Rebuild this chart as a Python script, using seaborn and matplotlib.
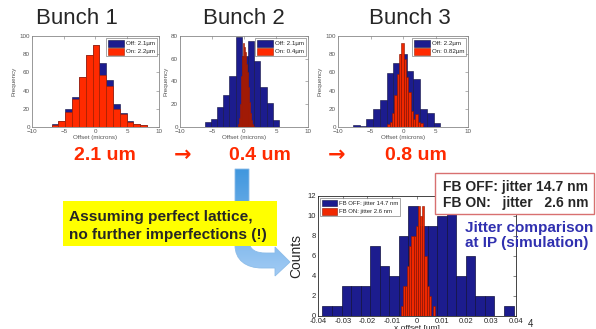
import matplotlib
matplotlib.use("Agg")
import matplotlib.pyplot as plt
import numpy as np
import pandas as pd
import seaborn as sns
from matplotlib.patches import Patch, Rectangle, PathPatch
from matplotlib.path import Path
from matplotlib.colors import LinearSegmentedColormap

# bunch 1 offsets (microns), feedback off / on
b1_off_counts = [3, 7, 20, 33, 55, 79, 90, 70, 52, 25, 15, 7, 3, 2]
b1_on_counts = [2, 7, 17, 31, 55, 79, 90, 57, 45, 20, 14, 5, 3, 2]
b1_off_range = (-6.9, 8.1)
b1_on_range = (-6.9, 8.1)

# bunch 2
b2_off_counts = [4, 7, 18, 28, 45, 79, 62, 76, 58, 35, 21, 6]
b2_on_counts = [3, 8, 20, 45, 62, 74, 70, 66, 55, 48, 35, 22, 12, 6, 3, 1]
b2_off_range = (-6.15, 5.47)
b2_on_range = (-0.9, 1.5)

# bunch 3
b3_off_counts = [2, 1, 9, 20, 30, 59, 70, 80, 61, 53, 20, 15, 4]
b3_on_counts = [3, 6, 15, 35, 58, 80, 92, 75, 55, 38, 18, 9, 14, 6, 4]
b3_off_range = (-7.7, 5.74)
b3_on_range = (-2.4, 3.0)

# jitter at IP (um)
ip_off_counts = [1, 1, 3, 3, 3, 7, 5, 4, 8, 11, 9, 9, 10, 11, 4, 6, 2, 2, 0, 1]
ip_on_counts = [1, 3, 3, 5, 7, 8, 8, 9, 11, 10, 11, 6, 3, 2, 0, 1]
ip_off_range = (-0.0382, 0.039)
ip_on_range = (-0.0066, 0.0074)

bunch_titles = ["Bunch 1", "Bunch 2", "Bunch 3"]
bunch_legends = [("Off: 2.1\u00b5m", "On: 2.2\u00b5m"),
                 ("Off: 2.1\u00b5m", "On: 0.4\u00b5m"),
                 ("Off: 2.2\u00b5m", "On: 0.82\u00b5m")]
bunch_ymax = [100, 80, 100]
result_labels = ["2.1 um", "0.4 um", "0.8 um"]

BLUE = "#1c1c8e"
RED = "#ff2a00"
FONT = ["Liberation Sans", "DejaVu Sans"]

sns.set_style("white")
plt.rcParams["font.family"] = FONT

W, H = 596, 329
fig = plt.figure(figsize=(W / 100, H / 100), dpi=100)


def px_axes(x0, y0, x1, y1):
    return fig.add_axes([x0 / W, 1 - y1 / H, (x1 - x0) / W, (y1 - y0) / H])


def hist_bars(ax, counts, rng, color, edge, lw):
    edges = np.linspace(rng[0], rng[1], len(counts) + 1)
    df = pd.DataFrame({"x": (edges[:-1] + edges[1:]) / 2, "n": counts})
    sns.histplot(data=df, x="x", weights="n", bins=edges.tolist(), ax=ax,
                 color=color, edgecolor=edge, linewidth=lw, alpha=1,
                 stat="count")


top_boxes = [(32, 36, 159, 127), (180, 36, 308, 127), (338, 36, 468, 127)]
top_data = [
    (b1_off_counts, b1_off_range, b1_on_counts, b1_on_range),
    (b2_off_counts, b2_off_range, b2_on_counts, b2_on_range),
    (b3_off_counts, b3_off_range, b3_on_counts, b3_on_range),
]

for i, box in enumerate(top_boxes):
    ax = px_axes(*box)
    off_c, off_r, on_c, on_r = top_data[i]
    hist_bars(ax, off_c, off_r, BLUE, "#101040", 0.4)
    if i == 0:
        hist_bars(ax, on_c, on_r, RED, "#a02000", 0.4)
    else:
        hist_bars(ax, on_c, on_r, "#f02800", "#8a1500", 0.4)
    ax.set_xlim(-10, 10)
    ax.set_ylim(0, bunch_ymax[i])
    ax.set_xticks([-10, -5, 0, 5, 10])
    ax.set_yticks(np.arange(0, bunch_ymax[i] + 1, 20))
    ax.tick_params(direction="in", length=2, width=0.4, labelsize=4.5,
                   labelcolor="#555555", color="#777777", pad=1.5,
                   top=True, right=True)
    for s in ax.spines.values():
        s.set_color("#888888")
        s.set_linewidth(0.6)
    ax.set_xlabel("Offset (microns)", fontsize=4.5, color="#555555", labelpad=1)
    ax.set_ylabel("Frequency", fontsize=4.5, color="#555555", labelpad=2)
    handles = [Patch(facecolor=BLUE, edgecolor="#101040", lw=0.4),
               Patch(facecolor=RED, edgecolor="#a02000", lw=0.4)]
    leg = ax.legend(handles, bunch_legends[i], loc="upper right", fontsize=4.5,
                    frameon=True, fancybox=False, handlelength=2.6,
                    handleheight=1.3, borderpad=0.3, labelspacing=0.2,
                    handletextpad=0.3, borderaxespad=0.3)
    leg.get_frame().set_edgecolor("#666666")
    leg.get_frame().set_linewidth(0.5)

# bottom: jitter at IP
ax = px_axes(318, 196, 516, 316)
hist_bars(ax, ip_off_counts, ip_off_range, BLUE, "#101040", 0.5)
hist_bars(ax, ip_on_counts, ip_on_range, "#f02800", "#8a1500", 0.4)
ax.set_xlim(-0.04, 0.04)
ax.set_ylim(0, 12)
ax.set_xticks(np.arange(-0.04, 0.041, 0.01))
ax.set_xticklabels(["-0.04", "-0.03", "-0.02", "-0.01", "0",
                    "0.01", "0.02", "0.03", "0.04"])
ax.set_yticks(np.arange(0, 13, 2))
ax.tick_params(direction="in", length=2, width=0.4, labelsize=5.5,
               pad=1.5, top=True, right=True)
for s in ax.spines.values():
    s.set_linewidth(0.6)
ax.set_xlabel("x offset [um]", fontsize=6, labelpad=0)
ax.set_ylabel("Counts", fontsize=10, labelpad=3)
handles = [Patch(facecolor=BLUE, edgecolor="#101040", lw=0.4),
           Patch(facecolor="#f02800", edgecolor="#8a1500", lw=0.4)]
leg = ax.legend(handles, ["FB OFF: jitter 14.7 nm", "FB ON: jitter 2.6 nm"],
                loc="upper left", fontsize=4.3, frameon=True, fancybox=False,
                handlelength=2.6, handleheight=1.4, borderpad=0.3,
                labelspacing=0.2, handletextpad=0.3, borderaxespad=0.3)
leg.get_frame().set_edgecolor("#666666")
leg.get_frame().set_linewidth(0.5)

# overlay in pixel coordinates for slide annotations
ov = fig.add_axes([0, 0, 1, 1], zorder=10)
ov.set_xlim(0, W)
ov.set_ylim(H, 0)
ov.axis("off")
ov.patch.set_alpha(0)

for x, t in zip([77, 244, 410], bunch_titles):
    ov.text(x, 18, t, fontsize=16, ha="center", va="center")

for x, t in zip([105, 260, 416], result_labels):
    ov.text(x, 156, t, fontsize=14, fontweight="bold", color=RED,
            ha="center", va="center")
for x in [183, 337]:
    ov.text(x, 155, "\u2192", fontsize=15, fontweight="bold", color=RED,
            ha="center", va="center", family="DejaVu Sans")

# curved arrow with gradient
verts = [(235, 169), (249, 169), (249, 240),
         (249, 250), (256, 253), (266, 253),
         (275, 253), (275, 247), (290, 262), (275, 276), (275, 268),
         (262, 268),
         (246, 268), (235, 260), (235, 245),
         (235, 169)]
codes = [Path.MOVETO, Path.LINETO, Path.LINETO,
         Path.CURVE4, Path.CURVE4, Path.CURVE4,
         Path.LINETO, Path.LINETO, Path.LINETO, Path.LINETO, Path.LINETO,
         Path.LINETO,
         Path.CURVE4, Path.CURVE4, Path.CURVE4,
         Path.CLOSEPOLY]
arrow = PathPatch(Path(verts, codes), facecolor="none", edgecolor="#8cbce8",
                  lw=0.6, zorder=2)
ov.add_patch(arrow)
cmap = LinearSegmentedColormap.from_list("arr", ["#3d95dd", "#a6cdf5"])
grad = np.linspace(0, 1, 256).reshape(-1, 1)
im = ov.imshow(grad, extent=(230, 296, 280, 165), aspect="auto", cmap=cmap,
               zorder=1)
im.set_clip_path(arrow)
ov.set_xlim(0, W)
ov.set_ylim(H, 0)

ov.add_patch(Rectangle((63, 201), 214, 45, facecolor="#ffff00",
                       edgecolor="none", zorder=3))
ov.text(69, 217, "Assuming perfect lattice,", fontsize=11.1,
        fontweight="bold", va="center", zorder=4)
ov.text(69, 235, "no further imperfections (!)", fontsize=11.1,
        fontweight="bold", va="center", zorder=4)

ov.add_patch(Rectangle((435, 173), 159, 41, facecolor="white",
                       edgecolor="#d87070", lw=1.0, zorder=3))
ov.text(443, 187, "FB OFF: jitter 14.7 nm", fontsize=10, fontweight="bold",
        va="center", zorder=4)
ov.text(443, 203, "FB ON:   jitter   2.6 nm", fontsize=10, fontweight="bold",
        va="center", zorder=4)

ov.text(465, 228, "Jitter comparison", fontsize=11, fontweight="bold",
        color="#3030b0", va="center", zorder=4)
ov.text(465, 243, "at IP (simulation)", fontsize=11, fontweight="bold",
        color="#3030b0", va="center", zorder=4)

ov.text(531, 324, "4", fontsize=7, va="center", ha="center")

fig.savefig("out.png", dpi=100)
